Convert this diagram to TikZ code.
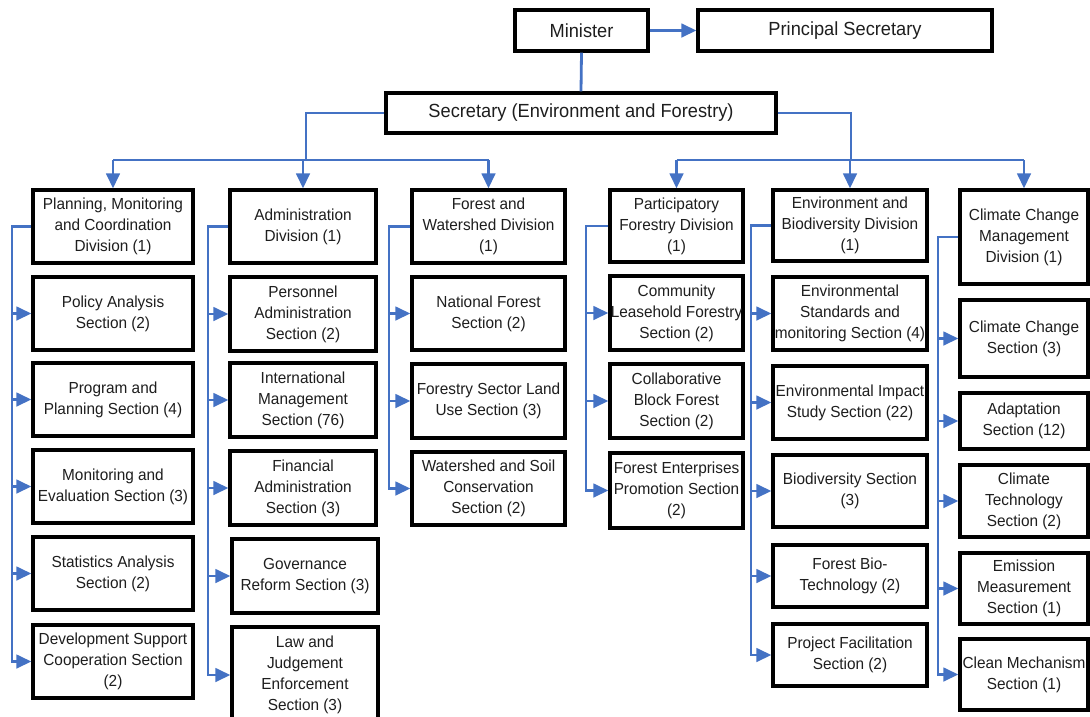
\documentclass[tikz,border=0pt]{standalone}
\usepackage{fontspec}
\setmainfont[FakeStretch=0.96]{Liberation Sans}
\usetikzlibrary{arrows.meta}
\definecolor{connc}{HTML}{4472C4}
\definecolor{txtc}{HTML}{1E1E1E}
\newcommand{\bx}[7][]{\node[box,#1,minimum width={(#5)-(#3)},minimum height={(#6)-(#4)}] (#2) at ({((#3)+(#5))/2},{((#4)+(#6))/2}) {#7};}
\begin{document}
\begin{tikzpicture}[x=1pt,y=-1pt,
  box/.style={draw=black,line width=3.2pt,fill=white,align=center,inner sep=0pt,text=txtc,font=\fontsize{16}{21}\selectfont},
  topbox/.style={font=\fontsize{19}{23}\selectfont},
  conn/.style={draw=connc,line width=2.8pt},
  arr/.style={conn,-{Triangle[length=15pt,width=13.5pt]}}]
\useasboundingbox (0,0) rectangle (1090,716);
\clip (0,0) rectangle (1090,716);
% top
\bx[topbox]{min}{515}{10}{648}{51}{Minister}
\bx[topbox]{ps}{698}{10}{992}{51}{Principal Secretary}
\bx[topbox]{sec}{386}{93}{776}{133}{Secretary (Environment and Forestry)}
% column 1
\bx{d1}{33}{190}{193}{263}{Planning, Monitoring\\and Coordination\\Division (1)}
\bx{s11}{33}{277}{193}{350}{Policy Analysis\\Section (2)}
\bx{s12}{33}{363}{193}{436}{Program and\\Planning Section (4)}
\bx{s13}{33}{450}{193}{523}{Monitoring and\\Evaluation Section (3)}
\bx{s14}{33}{537}{193}{610}{Statistics Analysis\\Section (2)}
\bx{s15}{33}{625}{193}{698}{Development Support\\Cooperation Section\\(2)}
% column 2
\bx{d2}{230}{190}{376}{263}{Administration\\Division (1)}
\bx{s21}{230}{277}{376}{351}{Personnel\\Administration\\Section (2)}
\bx{s22}{230}{363}{376}{437}{International\\Management\\Section (76)}
\bx{s23}{230}{451}{376}{525}{Financial\\Administration\\Section (3)}
\bx{s24}{232}{539}{378}{613}{Governance\\Reform Section (3)}
\bx{s25}{232}{627}{378}{723}{Law and\\Judgement\\Enforcement\\Section (3)}
% column 3
\bx{d3}{412}{190}{565}{263}{Forest and\\Watershed Division\\(1)}
\bx{s31}{412}{277}{565}{350}{National Forest\\Section (2)}
\bx{s32}{412}{364}{565}{438}{Forestry Sector Land\\Use Section (3)}
\bx{s33}{412}{452}{565}{525}{Watershed and Soil\\Conservation\\Section (2)}
% column 4
\bx{d4}{610}{190}{743}{262}{Participatory\\Forestry Division\\(1)}
\bx{s41}{610}{276}{743}{350}{Community\\Leasehold Forestry\\Section (2)}
\bx{s42}{610}{364}{743}{438}{Collaborative\\Block Forest\\Section (2)}
\bx{s43}{610}{453}{743}{528}{Forest Enterprises\\Promotion Section\\(2)}
% column 5
\bx{d5}{773}{190}{927}{261}{Environment and\\Biodiversity Division\\(1)}
\bx{s51}{773}{277}{927}{350}{Environmental\\Standards and\\monitoring Section (4)}
\bx{s52}{773}{366}{927}{439}{Environmental Impact\\Study Section (22)}
\bx{s53}{773}{455}{927}{527}{Biodiversity Section\\(3)}
\bx{s54}{773}{545}{927}{607}{Forest Bio-\\Technology (2)}
\bx{s55}{773}{624}{927}{686}{Project Facilitation\\Section (2)}
% column 6
\bx{d6}{960}{190}{1088}{284}{Climate Change\\Management\\Division (1)}
\bx{s61}{960}{300}{1088}{377}{Climate Change\\Section (3)}
\bx{s62}{960}{393}{1088}{449}{Adaptation\\Section (12)}
\bx{s63}{960}{465}{1088}{537}{Climate\\Technology\\Section (2)}
\bx{s64}{960}{553}{1088}{624}{Emission\\Measurement\\Section (1)}
\bx{s65}{960}{639}{1088}{710}{Clean Mechanism\\Section (1)}
% top connectors
\draw[arr] (min) -- (ps);
\draw[conn] (min.south) -- (sec.north);
\coordinate (jl) at (306,160);
\coordinate (jr) at (851,160);
\draw[conn] (sec.west) -| (jl);
\draw[conn] (sec.east) -| (jr);
\draw[conn] (d1.north |- jl) -- (d3.north |- jl);
\draw[conn] (d4.north |- jr) -- (d6.north |- jr);
\foreach \d in {d1,d2,d3,d4,d5,d6} \draw[arr] (\d.north |- jl) -- (\d.north);
% column buses
\coordinate (b1) at (12,0);
\coordinate (b2) at (208,0);
\coordinate (b3) at (389,0);
\coordinate (b4) at (586,0);
\coordinate (b5) at (751,0);
\coordinate (b6) at (938,0);
\draw[arr] (d1.west) -| (b1 |- s15.west) -- (s15.west);
\foreach \s in {s11,s12,s13,s14} \draw[arr] (b1 |- \s.west) -- (\s.west);
\draw[arr] (d2.west) -| (b2 |- s25.west) -- (s25.west);
\foreach \s in {s21,s22,s23,s24} \draw[arr] (b2 |- \s.west) -- (\s.west);
\draw[arr] (d3.west) -| (b3 |- s33.west) -- (s33.west);
\foreach \s in {s31,s32} \draw[arr] (b3 |- \s.west) -- (\s.west);
\draw[arr] (d4.west) -| (b4 |- s43.west) -- (s43.west);
\foreach \s in {s41,s42} \draw[arr] (b4 |- \s.west) -- (\s.west);
\draw[arr] (d5.west) -| (b5 |- s55.west) -- (s55.west);
\foreach \s in {s51,s52,s53,s54} \draw[arr] (b5 |- \s.west) -- (\s.west);
\draw[arr] (d6.west) -| (b6 |- s65.west) -- (s65.west);
\foreach \s in {s61,s62,s63,s64} \draw[arr] (b6 |- \s.west) -- (\s.west);
\end{tikzpicture}
\end{document}
